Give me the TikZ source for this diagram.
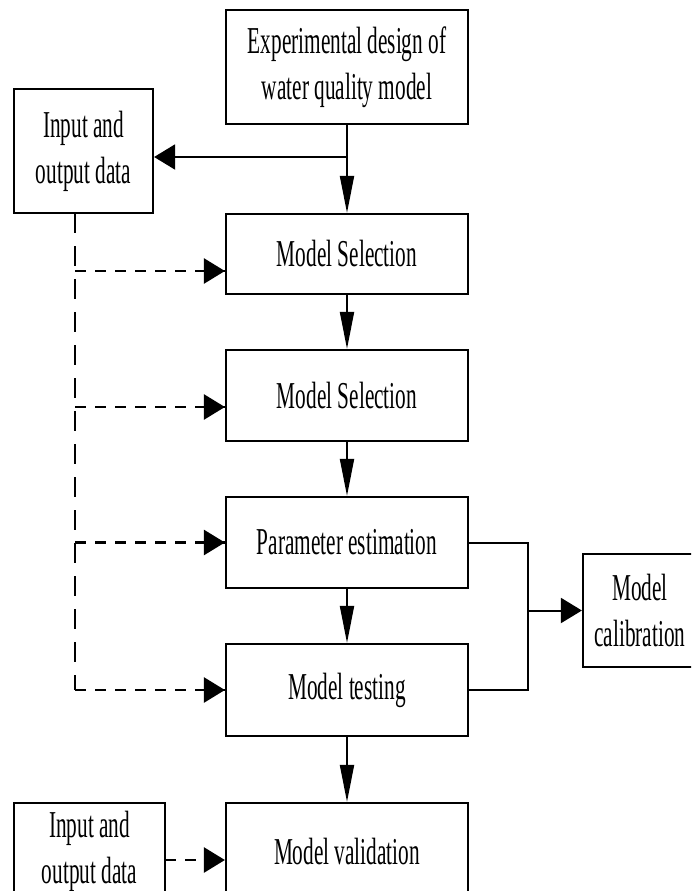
\documentclass[tikz,border=0pt]{standalone}
\usepackage{fontspec}
\setmainfont{Liberation Serif}[FakeStretch=0.56]
\usetikzlibrary{arrows.meta}
\begin{document}
\begin{tikzpicture}[x=1pt,y=-1pt,
  box/.style={draw,line width=2.2pt,inner sep=0pt,align=center,font=\fontsize{38}{46}\selectfont},
  mainbox/.style={box,minimum width=242pt},
  conn/.style={line width=2pt},
  varrow/.style={conn,-{Triangle[length=37pt,width=14pt]}},
  harrow/.style={conn,-{Triangle[length=21pt,width=25pt]}},
  htip/.style={line width=2.6pt,-{Triangle[length=21pt,width=25pt]}},
  hdash/.style={line width=2.8pt,dash pattern=on 11pt off 9pt},
  vdash/.style={line width=2pt,dash pattern=on 20pt off 13pt}]
\useasboundingbox (0,0) rectangle (691,891);
\clip (0,0) rectangle (691,891);
% nodes
\node[mainbox,minimum height=114pt] (top) at (347,67) {Experimental design of\\water quality model};
\node[box,minimum width=139pt,minimum height=124pt] (io1) at (83.5,151) {Input and\\output data};
\node[mainbox,minimum height=80pt] (ms1) at (347,254) {Model Selection};
\node[mainbox,minimum height=91pt] (ms2) at (347,395.5) {Model Selection};
\node[mainbox,minimum height=91pt] (pe) at (347,542.5) {Parameter estimation};
\node[mainbox,minimum height=92pt] (mt) at (347,690) {Model testing};
\node[mainbox,minimum height=96pt] (mv) at (347,851) {Model validation};
\node[box,minimum width=151pt,minimum height=96pt] (io2) at (89.5,851) {Input and\\output data};
\node[box,minimum width=114pt,minimum height=113pt] (cal) at (640,610.5) {Model\\calibration};
% coordinates
\coordinate (split) at (347,157);
\coordinate (dtop) at (75,213);
\coordinate (d1) at (75,271);
\coordinate (d2) at (75,407);
\coordinate (d3) at (75,542.5);
\coordinate (d4) at (75,690);
\coordinate (r1) at (528,542.5);
\coordinate (r2) at (528,690);
\coordinate (rm) at (528,610.5);
% solid connectors
\draw[varrow] (top.south) -- (ms1.north);
\draw[harrow] (split) -- (io1.east |- split);
\draw[varrow] (ms1.south) -- (ms2.north);
\draw[varrow] (ms2.south) -- (pe.north);
\draw[varrow] (pe.south) -- (mt.north);
\draw[varrow] (mt.south) -- (mv.north);
\draw[conn] (pe.east) -- (r1) -- (r2) -- (mt.east);
\draw[harrow] (rm) -- (cal.west);
% dashed connectors
\draw[vdash] (dtop) -- (d4);
\draw[hdash] (d1) -- (ms1.west |- d1);
\draw[hdash] (d2) -- (ms2.west |- d2);
\draw[hdash] (d3) -- (pe.west);
\draw[hdash] (d4) -- (mt.west);
\draw[htip] (ms1.west |- d1) ++(-21pt,0) -- (ms1.west |- d1);
\draw[htip] (ms2.west |- d2) ++(-21pt,0) -- (ms2.west |- d2);
\draw[htip] (pe.west) ++(-21pt,0) -- (pe.west);
\draw[htip] (mt.west) ++(-21pt,0) -- (mt.west);
\coordinate (b1) at (165,860);
\draw[hdash] (b1) -- (mv.west |- b1);
\draw[htip] (mv.west |- b1) ++(-21pt,0) -- (mv.west |- b1);
\end{tikzpicture}
\end{document}
